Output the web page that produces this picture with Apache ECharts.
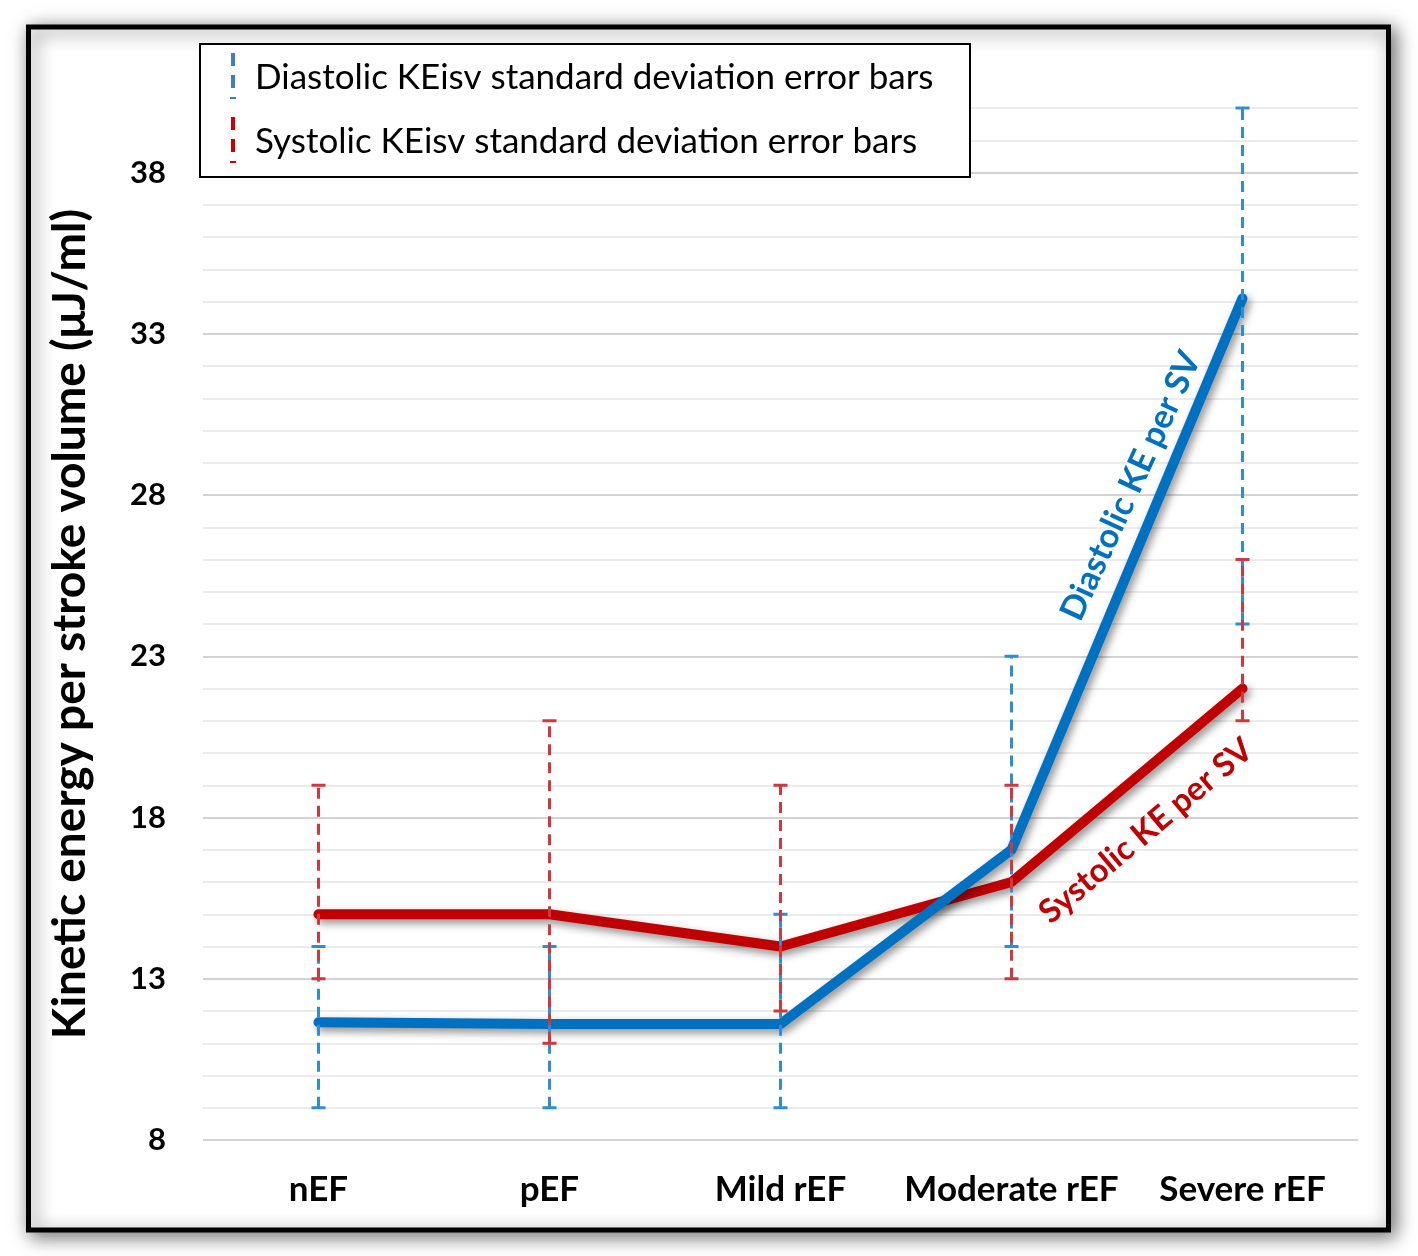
<!DOCTYPE html>
<html>
<head>
<meta charset="utf-8">
<script src="https://cdn.jsdelivr.net/npm/echarts@6/dist/echarts.min.js"></script>
<style>
html,body{margin:0;padding:0;background:#fff;}
#chart{width:1418px;height:1256px;}
</style>
</head>
<body>
<div id="chart"></div>
<script>
// ---- data ----
const categories = ['nEF', 'pEF', 'Mild rEF', 'Moderate rEF', 'Severe rEF'];
const diastolic = [11.65, 11.6, 11.6, 17.0, 34.1];
const diastolicLow = [9, 9, 9, 14, 24];
const diastolicHigh = [14, 14, 15, 23, 40];
const systolic = [15, 15, 14, 16, 22];
const systolicLow = [13, 11, 12, 13, 21];
const systolicHigh = [19, 21, 19, 19, 26];
const yTickLabels = [8, 13, 18, 23, 28, 33, 38];
const yAxisName = 'Kinetic energy per stroke volume (μJ/ml)';
const legendLabels = ['Diastolic KEisv standard deviation error bars', 'Systolic KEisv standard deviation error bars'];
const annotations = ['Diastolic KE per SV', 'Systolic KE per SV'];

const FONT = 'Lato';
const BLUE = '#0070C0', RED = '#C00000';
const BLUE_ERR = '#2F8DD6', RED_ERR = '#D0383E';

function errData(low, high) {
  return categories.map((c, i) => [i, low[i], high[i]]);
}
function errRender(color) {
  return function (params, api) {
    const x = api.value(0);
    const pLow = api.coord([x, api.value(1)]);
    const pHigh = api.coord([x, api.value(2)]);
    const hw = 7;
    return {
      type: 'group',
      children: [
        { type: 'line', shape: { x1: pLow[0], y1: pLow[1], x2: pHigh[0], y2: pHigh[1] },
          style: { stroke: color, lineWidth: 3, lineDash: [11, 7] } },
        { type: 'line', shape: { x1: pLow[0] - hw, y1: pLow[1], x2: pLow[0] + hw, y2: pLow[1] },
          style: { stroke: color, lineWidth: 3 } },
        { type: 'line', shape: { x1: pHigh[0] - hw, y1: pHigh[1], x2: pHigh[0] + hw, y2: pHigh[1] },
          style: { stroke: color, lineWidth: 3 } }
      ]
    };
  };
}

const chart = echarts.init(document.getElementById('chart'), null, { renderer: 'canvas' });

const lineStyleBase = {
  width: 10, cap: 'round', join: 'round',
  shadowColor: 'rgba(0,0,0,0.45)', shadowBlur: 8, shadowOffsetX: 3, shadowOffsetY: 4
};

const option = {
  backgroundColor: '#fff',
  animation: false,
  grid: { left: 203, right: 60, top: 108, bottom: 116, containLabel: false },
  xAxis: {
    type: 'category',
    data: categories,
    boundaryGap: true,
    axisLine: { show: false },
    axisTick: { show: false },
    axisLabel: { interval: 0, fontFamily: FONT, fontWeight: 'bold', fontSize: 35, color: '#000', margin: 32 }
  },
  yAxis: {
    type: 'value',
    min: 8, max: 40, interval: 1,
    name: yAxisName,
    nameLocation: 'middle',
    nameGap: 110,
    nameRotate: 90,
    nameTextStyle: { fontFamily: FONT, fontWeight: 'bold', fontSize: 46, color: '#000' },
    axisLine: { show: false },
    axisTick: { show: false },
    axisLabel: {
      fontFamily: FONT, fontWeight: 'bold', fontSize: 31, color: '#000', margin: 37,
      formatter: v => (yTickLabels.indexOf(v) >= 0 ? String(v) : '')
    },
    splitLine: {
      show: true,
      lineStyle: { color: ['#d3d3d3', '#ebebeb', '#ebebeb', '#ebebeb', '#ebebeb'], width: 2 }
    }
  },
  series: [
    { name: 'Systolic KE per SV', type: 'line', data: systolic, showSymbol: false, z: 3,
      lineStyle: Object.assign({ color: RED }, lineStyleBase), itemStyle: { color: RED } },
    { name: 'Diastolic KE per SV', type: 'line', data: diastolic, showSymbol: false, z: 4,
      lineStyle: Object.assign({ color: BLUE }, lineStyleBase), itemStyle: { color: BLUE } },
    { name: 'Diastolic SD', type: 'custom', data: errData(diastolicLow, diastolicHigh),
      renderItem: errRender(BLUE_ERR), z: 5, encode: { x: 0, y: [1, 2] } },
    { name: 'Systolic SD', type: 'custom', data: errData(systolicLow, systolicHigh),
      renderItem: errRender(RED_ERR), z: 6, encode: { x: 0, y: [1, 2] } }
  ],
  graphic: [
    { type: 'rect', z: -10, shape: { x: 28.5, y: 27, width: 1360, height: 1203 },
      style: { fill: '#fff', stroke: '#000', lineWidth: 5,
        shadowColor: 'rgba(0,0,0,0.55)', shadowBlur: 18, shadowOffsetX: 4, shadowOffsetY: 4 } },
    { type: 'rect', z: 100, shape: { x: 200, y: 44, width: 770, height: 133 },
      style: { fill: '#fff', stroke: '#000', lineWidth: 2 } },
    { type: 'line', z: 101, shape: { x1: 233, y1: 53, x2: 233, y2: 96 },
      style: { stroke: '#3F7CC8', lineWidth: 4, lineDash: [13, 9] } },
    { type: 'line', z: 101, shape: { x1: 230, y1: 98, x2: 236, y2: 98 },
      style: { stroke: '#3F7CC8', lineWidth: 2 } },
    { type: 'line', z: 101, shape: { x1: 233, y1: 117, x2: 233, y2: 160 },
      style: { stroke: '#CC0000', lineWidth: 4, lineDash: [13, 9] } },
    { type: 'line', z: 101, shape: { x1: 230, y1: 162, x2: 236, y2: 162 },
      style: { stroke: '#CC0000', lineWidth: 2 } },
    { type: 'text', z: 101, x: 255, y: 78,
      style: { text: legendLabels[0], fontFamily: FONT, fontSize: 35, fill: '#000', verticalAlign: 'middle' } },
    { type: 'text', z: 101, x: 255, y: 142,
      style: { text: legendLabels[1], fontFamily: FONT, fontSize: 35, fill: '#000', verticalAlign: 'middle' } },
    { type: 'text', z: 101, x: 1131, y: 486, rotation: 65.4 * Math.PI / 180,
      style: { text: annotations[0], fontFamily: FONT, fontWeight: 'bold', fontSize: 34, fill: BLUE,
        align: 'center', verticalAlign: 'middle' } },
    { type: 'text', z: 101, x: 1146, y: 831, rotation: 40 * Math.PI / 180,
      style: { text: annotations[1], fontFamily: FONT, fontWeight: 'bold', fontSize: 33, fill: RED,
        align: 'center', verticalAlign: 'middle' } }
  ]
};
chart.setOption(option);
</script>
</body>
</html>
